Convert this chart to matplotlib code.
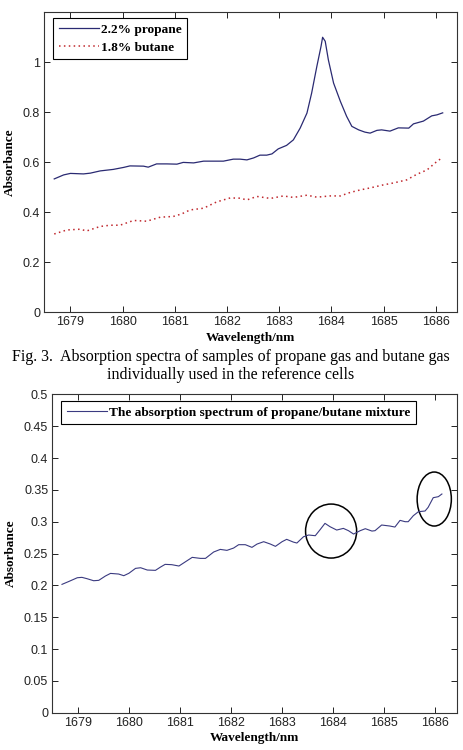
import matplotlib
matplotlib.use("Agg")
import matplotlib.pyplot as plt
from matplotlib.patches import Ellipse

# ---- data: propane / butane reference spectra ----
propane_wl = [1678.69, 1678.87, 1679.00, 1679.25, 1679.38, 1679.57, 1679.82, 1680.02, 1680.14,
              1680.40, 1680.49, 1680.65, 1680.85, 1681.04, 1681.16, 1681.36, 1681.55, 1681.74,
              1681.93, 1682.12, 1682.25, 1682.38, 1682.51, 1682.63, 1682.76, 1682.86, 1682.98,
              1683.14, 1683.27, 1683.40, 1683.53, 1683.62, 1683.72, 1683.80, 1683.83, 1683.88,
              1683.94, 1684.04, 1684.17, 1684.29, 1684.39, 1684.52, 1684.64, 1684.74, 1684.87,
              1684.96, 1685.12, 1685.28, 1685.48, 1685.57, 1685.76, 1685.92, 1686.02, 1686.13]
propane_abs = [0.533, 0.549, 0.555, 0.553, 0.556, 0.565, 0.571, 0.579, 0.585,
               0.584, 0.580, 0.593, 0.593, 0.592, 0.599, 0.597, 0.604, 0.604,
               0.604, 0.612, 0.612, 0.609, 0.617, 0.628, 0.628, 0.633, 0.653,
               0.667, 0.689, 0.736, 0.796, 0.876, 0.983, 1.063, 1.099, 1.083,
               1.009, 0.916, 0.843, 0.783, 0.743, 0.729, 0.720, 0.716, 0.727,
               0.729, 0.724, 0.737, 0.736, 0.753, 0.764, 0.785, 0.789, 0.797]

butane_wl = [1678.69, 1678.93, 1679.19, 1679.31, 1679.57, 1679.76, 1679.95, 1680.21, 1680.46,
             1680.72, 1680.97, 1681.13, 1681.29, 1681.55, 1681.80, 1682.06, 1682.25, 1682.38,
             1682.57, 1682.83, 1683.08, 1683.27, 1683.53, 1683.72, 1683.97, 1684.17, 1684.36,
             1684.55, 1684.74, 1684.99, 1685.19, 1685.44, 1685.63, 1685.83, 1686.02, 1686.13]
butane_abs = [0.313, 0.329, 0.332, 0.325, 0.343, 0.348, 0.348, 0.367, 0.364,
              0.380, 0.383, 0.393, 0.409, 0.416, 0.441, 0.457, 0.456, 0.449,
              0.463, 0.455, 0.465, 0.459, 0.468, 0.460, 0.465, 0.465, 0.479,
              0.489, 0.497, 0.509, 0.517, 0.529, 0.551, 0.569, 0.603, 0.619]

# ---- data: mixture spectrum ----
mix_wl = [1678.69, 1678.82, 1678.99, 1679.08, 1679.18, 1679.31, 1679.41, 1679.54, 1679.64,
          1679.80, 1679.90, 1680.00, 1680.13, 1680.23, 1680.36, 1680.52, 1680.62, 1680.71,
          1680.84, 1680.98, 1681.11, 1681.24, 1681.40, 1681.50, 1681.66, 1681.79, 1681.92,
          1682.05, 1682.15, 1682.28, 1682.41, 1682.51, 1682.64, 1682.77, 1682.87, 1683.00,
          1683.09, 1683.22, 1683.29, 1683.42, 1683.52, 1683.65, 1683.75, 1683.84, 1683.94,
          1684.07, 1684.20, 1684.30, 1684.40, 1684.53, 1684.63, 1684.76, 1684.82, 1684.95,
          1685.11, 1685.21, 1685.31, 1685.41, 1685.47, 1685.57, 1685.67, 1685.80, 1685.86,
          1685.96, 1686.06, 1686.13]
mix_abs = [0.2016, 0.2060, 0.2120, 0.2126, 0.2105, 0.2073, 0.2079, 0.2147, 0.2188,
           0.2178, 0.2152, 0.2190, 0.2267, 0.2277, 0.2241, 0.2236, 0.2288, 0.2330,
           0.2325, 0.2304, 0.2372, 0.2440, 0.2424, 0.2424, 0.2524, 0.2565, 0.2550,
           0.2586, 0.2639, 0.2639, 0.2597, 0.2649, 0.2686, 0.2649, 0.2613, 0.2686,
           0.2723, 0.2680, 0.2665, 0.2764, 0.2791, 0.2780, 0.2880, 0.2974, 0.2921,
           0.2869, 0.2895, 0.2859, 0.2806, 0.2859, 0.2890, 0.2853, 0.2859, 0.2948,
           0.2932, 0.2916, 0.3021, 0.3000, 0.3000, 0.3094, 0.3157, 0.3168, 0.3225,
           0.3377, 0.3393, 0.3435]

# circled regions (center wl, center abs, width nm, height abs)
circle_cx = [1683.96, 1685.98]
circle_cy = [0.2853, 0.3356]
circle_w = [1.00, 0.67]
circle_h = [0.0848, 0.0848]

x_ticks = [1679, 1680, 1681, 1682, 1683, 1684, 1685, 1686]
top_yticks = [0, 0.2, 0.4, 0.6, 0.8, 1]
top_ylabels = ["0", "0.2", "0.4", "0.6", "0.8", "1"]
bot_yticks = [0, 0.05, 0.1, 0.15, 0.2, 0.25, 0.3, 0.35, 0.4, 0.45, 0.5]
bot_ylabels = ["0", "0.05", "0.1", "0.15", "0.2", "0.25", "0.3", "0.35", "0.4", "0.45", "0.5"]

caption_lines = ["Fig. 3.  Absorption spectra of samples of propane gas and butane gas",
                 "individually used in the reference cells"]

SANS = "Liberation Sans"
SERIF = "Liberation Serif"

fig = plt.figure(figsize=(4.64, 7.5), dpi=100)

def style_axes(ax):
    ax.tick_params(direction="in", top=True, right=True, length=4, width=0.7,
                   labelsize=9, pad=3, colors="#222222")
    for lab in ax.get_xticklabels() + ax.get_yticklabels():
        lab.set_fontfamily(SANS)
    for s in ax.spines.values():
        s.set_linewidth(0.8)
        s.set_color("#333333")
    ax.set_xlabel("Wavelength/nm", fontfamily=SERIF, fontweight="bold", fontsize=9.5, labelpad=2.5)
    ax.set_ylabel("Absorbance", fontfamily=SERIF, fontweight="bold", fontsize=9.5, labelpad=5)

legend_prop = {"family": SERIF, "weight": "bold", "size": 9.6}

# ---- top chart ----
ax1 = fig.add_axes([0.0955, 0.5836, 0.8901, 0.4004])
ax1.plot(propane_wl, propane_abs, color="#2a2a72", lw=0.9, label="2.2% propane")
ax1.plot(butane_wl, butane_abs, color="#c0282e", lw=1.1, linestyle=(0, (1, 2.2)),
         label="1.8% butane")
ax1.set_xlim(1678.5, 1686.41)
ax1.set_ylim(0, 1.2)
ax1.set_xticks(x_ticks)
ax1.set_yticks(top_yticks)
ax1.set_yticklabels(top_ylabels)
style_axes(ax1)
leg1 = ax1.legend(loc="upper left", bbox_to_anchor=(0.022, 0.979), borderaxespad=0,
                  fancybox=False, edgecolor="black", framealpha=1, handlelength=3.0,
                  handletextpad=0.2, borderpad=0.4, labelspacing=0.4, prop=legend_prop)
leg1.get_frame().set_linewidth(0.8)

# ---- caption ----
fig.text(0.497, 1 - 357 / 750, caption_lines[0], ha="center", va="center",
         fontfamily=SERIF, fontsize=11.5)
fig.text(0.496, 1 - 375 / 750, caption_lines[1], ha="center", va="center",
         fontfamily=SERIF, fontsize=11.5)

# ---- bottom chart ----
ax2 = fig.add_axes([0.1127, 0.0497, 0.8716, 0.4245])
ax2.plot(mix_wl, mix_abs, color="#3a3a80", lw=0.8,
         label="The absorption spectrum of propane/butane mixture")
for cx, cy, w, h in zip(circle_cx, circle_cy, circle_w, circle_h):
    ax2.add_patch(Ellipse((cx, cy), w, h, fill=False, edgecolor="black", lw=1.1))
ax2.set_xlim(1678.5, 1686.42)
ax2.set_ylim(0, 0.5)
ax2.set_xticks(x_ticks)
ax2.set_yticks(bot_yticks)
ax2.set_yticklabels(bot_ylabels)
style_axes(ax2)
leg2 = ax2.legend(loc="upper left", bbox_to_anchor=(0.022, 0.978), borderaxespad=0,
                  fancybox=False, edgecolor="black", framealpha=1, handlelength=3.0,
                  handletextpad=0.2, borderpad=0.4, prop=legend_prop)
leg2.get_frame().set_linewidth(0.8)

fig.savefig("out.png", dpi=100)
